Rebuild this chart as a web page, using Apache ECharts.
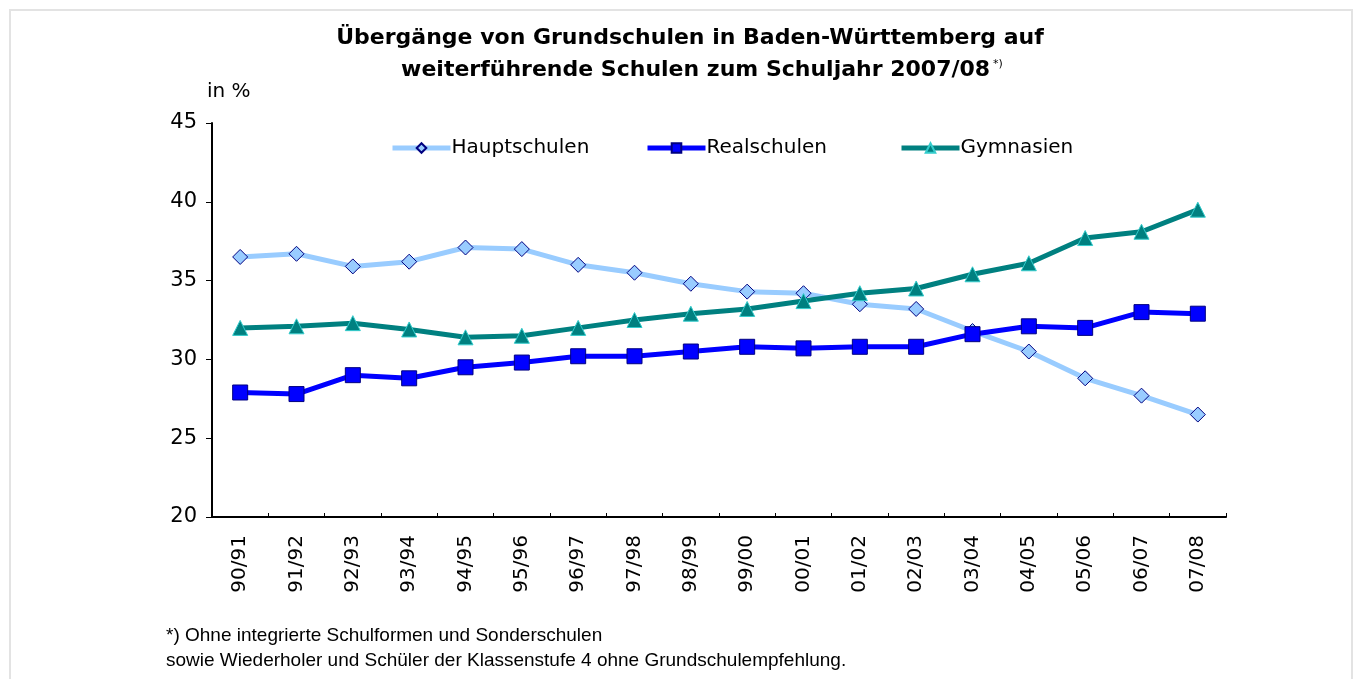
<!DOCTYPE html>
<html><head><meta charset="utf-8">
<script src="https://cdn.jsdelivr.net/npm/echarts@6/dist/echarts.min.js"></script>
<style>html,body{margin:0;padding:0;background:#fff}#c{width:1361px;height:679px}</style>
</head><body><div id="c"></div>
<script>
const categories = ['90/91','91/92','92/93','93/94','94/95','95/96','96/97','97/98','98/99','99/00','00/01','01/02','02/03','03/04','04/05','05/06','06/07','07/08'];
const hauptschulen = [36.5,36.7,35.9,36.2,37.1,37.0,36.0,35.5,34.8,34.3,34.2,33.5,33.2,31.8,30.5,28.8,27.7,26.5];
const realschulen  = [27.9,27.8,29.0,28.8,29.5,29.8,30.2,30.2,30.5,30.8,30.7,30.8,30.8,31.6,32.1,32.0,33.0,32.9];
const gymnasien    = [32.0,32.1,32.3,31.9,31.4,31.5,32.0,32.5,32.9,33.2,33.7,34.2,34.5,35.4,36.1,37.7,38.1,39.5];
const seriesNames = ['Hauptschulen','Realschulen','Gymnasien'];
const titleLine1 = 'Übergänge von Grundschulen in Baden-Württemberg auf';
const titleLine2 = 'weiterführende Schulen zum Schuljahr 2007/08';
const footnote1 = '*) Ohne integrierte Schulformen und Sonderschulen';
const footnote2 = 'sowie Wiederholer und Schüler der Klassenstufe 4 ohne Grundschulempfehlung.';

const FONT = 'DejaVu Sans';
const NARROW = 'Liberation Sans Narrow, Liberation Sans';
const chart = echarts.init(document.getElementById('c'));
const legendBase = {orient:'horizontal', top:133, itemWidth:58, itemHeight:12, itemGap:0,
  lineStyle:{width:5},
  textStyle:{fontFamily:FONT, fontSize:20, color:'#000', padding:[0,0,0,-4]}};
chart.setOption({
  animation:false,
  backgroundColor:'#fff',
  grid:{left:212, right:135, top:123, bottom:162},
  legend:[
    Object.assign({}, legendBase, {left:385, data:[seriesNames[0]]}),
    Object.assign({}, legendBase, {left:640, data:[seriesNames[1]]}),
    Object.assign({}, legendBase, {left:894, data:[seriesNames[2]]})
  ],
  xAxis:{type:'category', data:categories, boundaryGap:true,
    axisLine:{lineStyle:{color:'#000', width:2}},
    axisTick:{show:true, inside:true, length:4, lineStyle:{color:'#000', width:1}},
    axisLabel:{rotate:90, margin:18, fontFamily:FONT, fontSize:20, color:'#000'}},
  yAxis:{type:'value', min:20, max:45, interval:5,
    axisLine:{show:true, lineStyle:{color:'#000', width:2}},
    axisTick:{show:true, length:6, lineStyle:{color:'#000', width:1}},
    splitLine:{show:false},
    axisLabel:{margin:15, fontFamily:FONT, fontSize:21, color:'#000'}},
  series:[
    {name:seriesNames[0], type:'line', data:hauptschulen, symbol:'diamond', symbolSize:15,
     lineStyle:{color:'#99ccff', width:5}, itemStyle:{color:'#99ccff', borderColor:'#000080', borderWidth:1}, z:2},
    {name:seriesNames[1], type:'line', data:realschulen, symbol:'rect', symbolSize:15,
     lineStyle:{color:'#0000ff', width:5}, itemStyle:{color:'#0000ff', borderColor:'#000080', borderWidth:1}, z:3},
    {name:seriesNames[2], type:'line', data:gymnasien, symbol:'triangle', symbolSize:15,
     lineStyle:{color:'#008080', width:5}, itemStyle:{color:'#008080', borderColor:'#33cccc', borderWidth:1}, z:4}
  ],
  graphic:[
    {type:'rect', shape:{x:10, y:10, width:1342, height:700}, style:{fill:null, stroke:'#e3e3e3', lineWidth:2}, silent:true},
    {type:'text', x:690, y:27, style:{text:titleLine1, fontFamily:FONT, fontWeight:'bold', fontSize:22, fill:'#000', align:'center'}},
    {type:'text', x:702, y:59, style:{text:'{t|'+titleLine2+'}{s|*)}', align:'center',
      rich:{t:{fontFamily:FONT, fontWeight:'bold', fontSize:22, color:'#000'},
            s:{fontFamily:FONT, fontSize:11, color:'#000', verticalAlign:'top', padding:[0,0,12,3]}}}},
    {type:'text', x:207, y:82, style:{text:'in %', fontFamily:FONT, fontSize:20, fill:'#000'}},
    {type:'text', x:166, y:626, style:{text:footnote1, fontFamily:NARROW, fontSize:19, fill:'#000'}},
    {type:'text', x:166, y:651, style:{text:footnote2, fontFamily:NARROW, fontSize:19, fill:'#000'}}
  ]
});
</script></body></html>
